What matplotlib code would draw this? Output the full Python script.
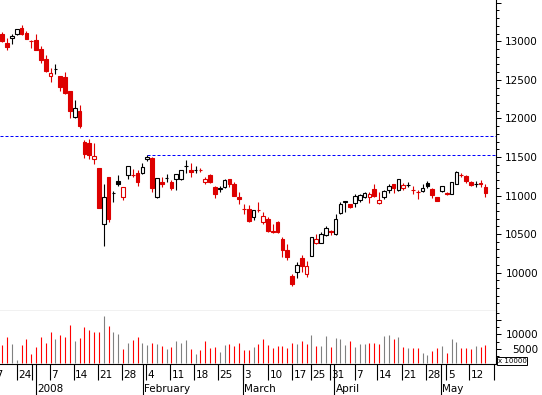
import matplotlib
matplotlib.use("Agg")
import matplotlib.pyplot as plt
from matplotlib.patches import Rectangle
from matplotlib.ticker import MultipleLocator, FixedLocator

# daily candles (index = trading day)
opens = [13095, 12974, 13039, 13091, 13169, 13104, 13010, 13017, 12900, 12770,
         12554, 12638, 12550, 12537, 12355, 12022, 12096, 11698, 11681, 11470,
         11357, 10627, 11240, 11030, 11184, 10985, 11262, 11270, 11292, 11296,
         11480, 11487, 10977, 11175, 11222, 11175, 11210, 11218, 11382, 11327,
         11330, 11328, 11171, 11266, 11110, 11089, 11110, 11214, 11153, 10981,
         10825, 10825, 10725, 10812, 10653, 10695, 10536, 10653, 10436, 10293,
         9956, 10004, 10189, 9978, 10219, 10388, 10388, 10488, 10535, 10501,
         10769, 10920, 10886, 10899, 10945, 10977, 10977, 11084, 10899, 10977,
         11071, 11149, 11067, 11097, 11135, 11072, 11050, 11062, 11166, 11080,
         10977, 11062, 11030, 11020, 11149, 11266, 11253, 11171, 11146, 11156,
         11114]
highs = [13125, 13039, 13095, 13160, 13211, 13134, 13021, 13095, 12939, 12818,
         12650, 12702, 12555, 12598, 12358, 12239, 12174, 11720, 11733, 11681,
         11360, 11149, 11245, 11058, 11266, 11110, 11383, 11340, 11331, 11426,
         11521, 11496, 11227, 11236, 11275, 11205, 11279, 11331, 11460, 11418,
         11379, 11353, 11244, 11275, 11123, 11123, 11214, 11218, 11179, 11049,
         10890, 10877, 10818, 10912, 10790, 10725, 10627, 10669, 10462, 10367,
         9982, 10138, 10228, 10150, 10462, 10501, 10531, 10605, 10553, 10760,
         10916, 10925, 10890, 11016, 11020, 11042, 11049, 11149, 11042, 11071,
         11145, 11152, 11214, 11158, 11171, 11123, 11071, 11149, 11188, 11093,
         10980, 11127, 11045, 11175, 11318, 11288, 11270, 11192, 11188, 11201,
         11149]
lows = [12987, 12891, 12969, 13088, 13088, 13030, 12917, 12885, 12715, 12598,
        12476, 12576, 12359, 12320, 12001, 12001, 11872, 11482, 11473, 11413,
        10838, 10349, 10653, 10920, 11123, 10946, 11210, 11236, 11127, 11283,
        11447, 11049, 10964, 11114, 11175, 11075, 11075, 11205, 11296, 11236,
        11296, 11301, 11145, 11168, 10971, 11042, 11093, 11114, 10990, 10894,
        10756, 10653, 10682, 10790, 10627, 10531, 10510, 10510, 10206, 10164,
        9830, 9926, 10012, 9947, 10215, 10371, 10385, 10475, 10488, 10488,
        10760, 10790, 10834, 10855, 10920, 10964, 10899, 10977, 10895, 10955,
        11029, 11029, 11064, 11071, 11106, 11016, 10951, 11042, 11101, 10971,
        10925, 11049, 11003, 11016, 11145, 11236, 11166, 11123, 11114, 11114,
        10984]
closes = [13008, 12930, 13065, 13156, 13091, 13034, 13005, 12887, 12757, 12619,
          12585, 12642, 12411, 12330, 12100, 12131, 11905, 11538, 11525, 11509,
          10842, 10977, 10699, 11036, 11145, 11106, 11379, 11266, 11179, 11366,
          11499, 11101, 11223, 11153, 11227, 11101, 11275, 11327, 11387, 11301,
          11335, 11325, 11214, 11171, 11023, 11093, 11197, 11145, 10998, 10958,
          10821, 10673, 10815, 10808, 10738, 10540, 10531, 10525, 10297, 10206,
          9852, 10099, 10090, 10086, 10458, 10436, 10497, 10575, 10531, 10691,
          10886, 10925, 10855, 10990, 11010, 11029, 11020, 10997, 10942, 11058,
          11119, 11101, 11210, 11132, 11140, 11067, 11045, 11097, 11123, 11003,
          10933, 11123, 11023, 11171, 11309, 11262, 11192, 11136, 11153, 11150,
          11036]
prev_close = 13090

# volume, x 10000
volume = [6300, 9100, 6650, 1050, 6300, 8500, 3150, 5600, 9100, 7000,
          10850, 8500, 9800, 9100, 13300, 7800, 8750, 12600, 11550, 10850,
          10850, 16450, 12950, 10850, 10150, 4900, 7000, 8050, 9100, 7000,
          6300, 7000, 6650, 5950, 5000, 5600, 7700, 7000, 8150, 4900,
          3150, 4550, 7700, 5350, 5600, 3850, 6300, 6650, 5950, 7000,
          4550, 4550, 5600, 6650, 8500, 6300, 5130, 6060, 6060, 5360,
          7110, 6640, 7810, 6760, 9790, 6060, 6060, 9440, 5710, 8740,
          8510, 6290, 7810, 5600, 6760, 6760, 6990, 6990, 6760, 9440,
          9790, 8510, 9090, 5600, 5360, 5360, 5360, 3380, 2800, 4310,
          5360, 6060, 3610, 8510, 7340, 5360, 5130, 4780, 6060, 5710,
          6290]

resistance_1 = 11772
resistance_2_from = 30  # dashed line from this day's high

week_labels = ['17', '24', '', '7', '14', '21', '28', '4', '11', '18', '25', '3',
               '10', '17', '25', '31', '7', '14', '21', '28', '5', '12', '']
week_pos = [-2.75, 3, 6.15, 9.9, 14.8, 19.8, 24.8, 29.75, 34.7, 39.7, 44.7, 49.8,
            55.0, 60, 63.9, 67.8, 73, 77.6, 82.7, 87.7, 91.9, 96.6, 101.8]
month_labels = ['2008', 'February', 'March', 'April', 'May']
month_pos = [7, 29.1, 49.8, 68.7, 90.8]

RED = '#dd0000'
VRED = '#ff0000'
GRAY = '#808080'
W, H = 542, 395
plt.rcParams['font.family'] = 'DejaVu Sans'


def box(x0, y0, x1, y1):
    return [x0 / W, 1 - y1 / H, (x1 - x0) / W, (y1 - y0) / H]


fig = plt.figure(figsize=(W / 100, H / 100), dpi=100)
ax = fig.add_axes(box(0, 0, 496, 311))
axv = fig.add_axes(box(0, 311, 496, 364))
axd = fig.add_axes(box(0, 364, 496, 395))
xlim = (-0.48, 102.2)

up = []
for i in range(len(closes)):
    o, h, l, c = opens[i], highs[i], lows[i], closes[i]
    pc = prev_close if i == 0 else closes[i - 1]
    col = RED if c < pc else 'black'
    up.append(c >= pc)
    ax.vlines(i, l, h, color=col, lw=0.8, zorder=2)
    face = col if c < o else 'white'
    ax.add_patch(Rectangle((i - 0.38, min(o, c)), 0.76, abs(c - o),
                           facecolor=face, edgecolor=col, lw=0.8, zorder=3))

ax.axhline(resistance_1, color='#0000ff', lw=0.72, ls=(0, (3, 2)), zorder=1)
ax.hlines(highs[resistance_2_from], resistance_2_from, xlim[1], color='#0000ff',
          lw=0.72, ls=(0, (3, 2)), zorder=1)

ax.set_xlim(*xlim)
ax.set_ylim(9502, 13536)
ax.yaxis.tick_right()
ax.yaxis.set_major_locator(MultipleLocator(500))
ax.yaxis.set_major_formatter(plt.FuncFormatter(lambda v, p: '%d' % v if 9600 < v < 13400 else ''))
ax.yaxis.set_minor_locator(MultipleLocator(100))
ax.tick_params(axis='y', which='major', length=3.6, width=0.72, labelsize=7.5, pad=26.6)
ax.tick_params(axis='y', which='minor', length=2.2, width=0.72)
ax.set_xticks([])
plt.setp(ax.get_yticklabels(), ha='right')

vcols = [GRAY if u else VRED for u in up]
axv.vlines(range(len(volume)), 0, volume, colors=vcols, lw=0.8)
axv.set_xlim(*xlim)
axv.set_ylim(-300, 18200)
axv.yaxis.tick_right()
axv.yaxis.set_major_locator(FixedLocator([5000, 10000, 15000]))
axv.yaxis.set_major_formatter(plt.FuncFormatter(lambda v, p: '' if v > 12000 else '%d' % v))
axv.yaxis.set_minor_locator(FixedLocator([2500, 7500, 12500, 17500]))
axv.tick_params(axis='y', which='major', length=3.6, width=0.72, labelsize=7.5, pad=26.6)
axv.tick_params(axis='y', which='minor', length=2.2, width=0.72)
axv.set_xticks([])
plt.setp(axv.get_yticklabels(), ha='right')

for a in (ax, axv):
    a.spines['top'].set_visible(False)
    a.spines['left'].set_visible(False)
    a.spines['right'].set_linewidth(0.8)
    a.spines['bottom'].set_linewidth(0.8)

fig.text(512 / W, 1 - 361 / H, 'x 10000', fontsize=5, ha='center', va='center',
         bbox=dict(boxstyle='square,pad=0.15', fc='white', ec='black', lw=0.7))

# date rows
axd.set_xlim(*xlim)
axd.set_ylim(395, 364)
axd.axis('off')
axd.vlines(week_pos, 364, 380, color='black', lw=0.8)
axd.vlines(month_pos, 364, 395, color='black', lw=0.8)
for p, s in zip(week_pos, week_labels):
    axd.text(p + 0.3, 374.5, s, fontsize=7.5, ha='left', va='center', clip_on=False)
for p, s in zip(month_pos, month_labels):
    axd.text(p + 0.3, 388.5, s, fontsize=7.5, ha='left', va='center', clip_on=False)

fig.savefig('out.png', dpi=100)
